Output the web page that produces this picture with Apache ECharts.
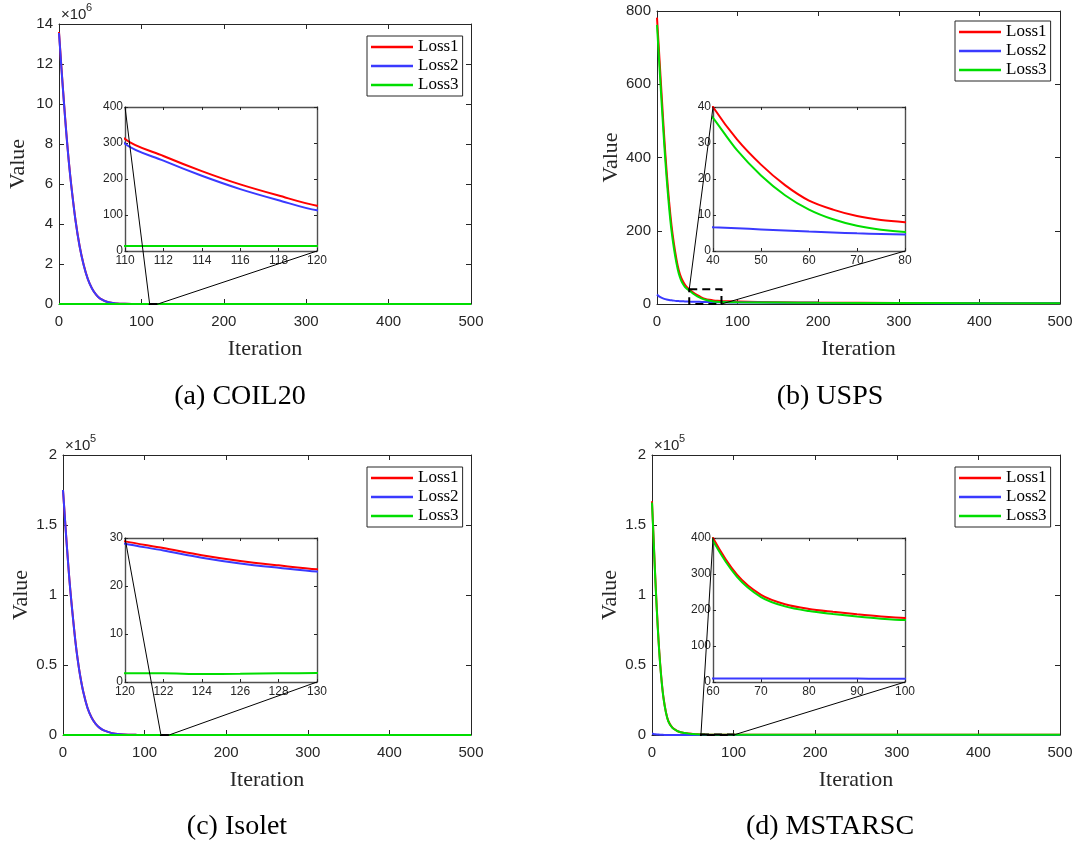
<!DOCTYPE html>
<html><head><meta charset="utf-8">
<script src="https://cdn.jsdelivr.net/npm/echarts@6/dist/echarts.min.js"></script>
<style>html,body{margin:0;padding:0;background:#fff}#c{width:1078px;height:847px}</style>
</head><body><div id="c"></div>
<script>
// ---------------- data ----------------
const seriesNames = ['Loss1', 'Loss2', 'Loss3'];
const captions = ['(a) COIL20', '(b) USPS', '(c) Isolet', '(d) MSTARSC'];
const xTickStep = 100;
const xMax = 500;

// (a) COIL20
const coilIter = [0,3,6,9,12,15,20,25,30,35,40,45,50,60,70,80,90,100,110,112,114,116,118,120,130,150,200,300,400,500];
const coilLoss1 = [13600000,11800000,10100000,8500000,7100000,5900000,4200000,2900000,1950000,1250000,780000,470000,270000,85000,26000,7600,2300,800,311,264,222,185,154,126,52,22,16,15,15,15];
const coilLoss2 = [13550000,11750000,10060000,8465000,7070000,5875000,4180000,2887000,1940000,1244000,776000,467000,268000,84200,25700,7450,2240,775,298,251,209,172,141,113,44,18,13,12,12,12];
const coilLoss3 = [20,18,17,16.5,16,15.5,15.2,15,14.8,14.6,14.5,14.4,14.3,14.2,14.2,14.1,14.1,14,14,14,14,14,14,14,14,13.9,13.8,13.6,13.5,13.4];
const coilYTicks = [0, 14000000, 2000000];      // min, max, step
const coilZoomX = [110, 120], coilZoomY = [0, 400], coilZoomSteps = [2, 100];

// (b) USPS
const uspsIter = [0,3,6,9,12,15,18,21,24,27,30,33,36,40,45,50,55,60,65,70,75,80,90,100,150,200,300,400,500];
const uspsLoss1 = [782,672,562,455,360,280,215,165,124,92,72,59,49,40,31,24,18.3,14,11.5,9.7,8.6,8.0,7.2,6.6,5.0,4.0,3.0,2.5,2.2];
const uspsLoss2 = [26,20,16.5,14,12.3,11,10,9.2,8.5,8,7.5,7.2,6.9,6.6,6.3,6.0,5.7,5.4,5.15,4.9,4.75,4.6,4.4,4.2,3.6,3.1,2.6,2.2,2.0];
const uspsLoss3 = [762,650,540,435,342,264,200,152,113,83,64,52,43.5,37,28,21,15.5,11.5,8.8,7.0,5.9,5.3,4.8,4.5,3.8,3.3,2.7,2.3,2.0];
const uspsYTicks = [0, 800, 200];
const uspsZoomX = [40, 80], uspsZoomY = [0, 40], uspsZoomSteps = [10, 10];

// (c) Isolet
const isoletIter = [0,2,4,6,8,10,12,15,18,21,25,30,35,40,45,50,60,70,80,90,100,110,120,122,124,126,128,130,150,200,300,400,500];
const isoletLoss1 = [175000,158000,141000,125000,110000,97000,85000,68000,54000,42500,30500,19500,12500,8000,5100,3300,1350,560,240,110,57,37,29.3,27.9,26.4,25.2,24.3,23.5,19,15,12,11,10];
const isoletLoss2 = [175000,157800,140800,124800,109800,96800,84800,67800,53800,42300,30350,19400,12430,7950,5070,3280,1340,555,237,108,56,36.5,28.8,27.4,25.9,24.7,23.8,23.0,18.5,14.6,11.7,10.7,9.8];
const isoletLoss3 = [2.0,1.95,1.9,1.9,1.85,1.85,1.8,1.8,1.8,1.8,1.8,1.8,1.8,1.8,1.8,1.8,1.8,1.8,1.8,1.8,1.8,1.8,1.8,1.8,1.65,1.7,1.8,1.85,1.85,1.8,1.8,1.75,1.75];
const isoletYTicks = [0, 200000, 50000];
const isoletZoomX = [120, 130], isoletZoomY = [0, 30], isoletZoomSteps = [2, 10];

// (d) MSTARSC
const mstarIter = [0,2,4,6,8,10,12,14,17,20,25,30,35,40,45,50,55,60,65,70,75,80,85,90,95,100,150,200,300,400,500];
const mstarLoss1 = [167000,140000,113000,89000,68000,51000,37500,27000,16500,10000,5200,3200,2000,1400,1000,760,540,400,298,242,216,203,195,188,182,178,162,150,140,135,130];
const mstarLoss2 = [1000,750,550,400,290,210,150,110,70,45,25,17,13,11.5,10.5,10,9.8,9.7,9.6,9.6,9.5,9.5,9.4,9.4,9.3,9.3,9.1,9.0,8.8,8.7,8.6];
const mstarLoss3 = [166000,139000,112000,88000,67200,50300,37000,26600,16200,9800,5050,3120,1950,1370,980,745,530,392,292,236,210,197,189,182,176,172,156,146,137,132,127];
const mstarYTicks = [0, 200000, 50000];
const mstarZoomX = [60, 100], mstarZoomY = [0, 400], mstarZoomSteps = [10, 100];

// ---------------- style / layout ----------------
const colors = ['#ff0000', '#3a3aff', '#00dd00'];
const AX = '#262626';
const SANS = 'Liberation Sans, Arial, Helvetica, sans-serif';
const SERIF = 'Liberation Serif, Times New Roman, serif';

const panels = [
  {iter: coilIter, losses: [coilLoss1, coilLoss2, coilLoss3], yT: coilYTicks, yScale: 1e6, exp: '6',
   zx: coilZoomX, zy: coilZoomY, zs: coilZoomSteps,
   main: {left: 59, top: 24, width: 412, height: 280}, inset: {left: 125, top: 107, width: 192, height: 144},
   legend: {left: 367, top: 36}, cap: [240, 397]},
  {iter: uspsIter, losses: [uspsLoss1, uspsLoss2, uspsLoss3], yT: uspsYTicks, yScale: 1, exp: null,
   zx: uspsZoomX, zy: uspsZoomY, zs: uspsZoomSteps,
   main: {left: 657, top: 11, width: 403, height: 293}, inset: {left: 713, top: 107, width: 192, height: 144},
   legend: {left: 955, top: 21}, cap: [830, 397]},
  {iter: isoletIter, losses: [isoletLoss1, isoletLoss2, isoletLoss3], yT: isoletYTicks, yScale: 1e5, exp: '5',
   zx: isoletZoomX, zy: isoletZoomY, zs: isoletZoomSteps,
   main: {left: 63, top: 455, width: 408, height: 280}, inset: {left: 125, top: 538, width: 192, height: 144},
   legend: {left: 367, top: 467}, cap: [237, 827]},
  {iter: mstarIter, losses: [mstarLoss1, mstarLoss2, mstarLoss3], yT: mstarYTicks, yScale: 1e5, exp: '5',
   zx: mstarZoomX, zy: mstarZoomY, zs: mstarZoomSteps,
   main: {left: 652, top: 455, width: 408, height: 280}, inset: {left: 713, top: 538, width: 192, height: 144},
   legend: {left: 955, top: 467}, cap: [830, 827]}
];

const grids = [], xAxes = [], yAxes = [], series = [], legends = [];

function mkAxis(g, min, max, step, inset, pos, fmt, name, isY) {
  return {
    gridIndex: g, type: 'value', min: min, max: max, interval: step, position: pos,
    z: inset ? 6 : 1,
    axisLine: {show: true, onZero: false, lineStyle: {color: inset ? '#505050' : AX, width: inset ? 1.4 : 1}},
    axisTick: {show: true, inside: true, length: inset ? 3 : 5, lineStyle: {color: AX}},
    axisLabel: {show: (pos === 'bottom' || pos === 'left'), fontFamily: SANS, fontSize: inset ? 12 : 15,
      color: AX, margin: inset ? (isY ? 2 : 4) : (isY ? 6 : 10), showMinLabel: true, showMaxLabel: true,
      formatter: fmt},
    splitLine: {show: false},
    name: name || '', nameLocation: 'middle', nameGap: isY ? 30 : 34,
    nameTextStyle: {fontFamily: SERIF, fontSize: 22, color: AX}
  };
}

// main grids 0..3, inset grids 4..7
panels.forEach((p) => {
  grids.push(Object.assign({containLabel: false, show: false}, p.main));
});
panels.forEach((p) => {
  grids.push(Object.assign({containLabel: false, show: true, backgroundColor: '#fff', borderWidth: 0, z: 5}, p.inset));
});

panels.forEach((p, i) => {
  const fmt = v => String(+(v / p.yScale).toFixed(2));
  xAxes.push(mkAxis(i, 0, xMax, xTickStep, false, 'bottom', null, 'Iteration', false));
  xAxes.push(mkAxis(i, 0, xMax, xTickStep, false, 'top', null, '', false));
  yAxes.push(mkAxis(i, p.yT[0], p.yT[1], p.yT[2], false, 'left', fmt, 'Value', true));
  yAxes.push(mkAxis(i, p.yT[0], p.yT[1], p.yT[2], false, 'right', fmt, '', true));
});
panels.forEach((p, i) => {
  const g = i + 4;
  xAxes.push(mkAxis(g, p.zx[0], p.zx[1], p.zs[0], true, 'bottom', null, '', false));
  xAxes.push(mkAxis(g, p.zx[0], p.zx[1], p.zs[0], true, 'top', null, '', false));
  yAxes.push(mkAxis(g, p.zy[0], p.zy[1], p.zs[1], true, 'left', null, '', true));
  yAxes.push(mkAxis(g, p.zy[0], p.zy[1], p.zs[1], true, 'right', null, '', true));
});

panels.forEach((p, i) => {
  p.seriesIdx = {};
  p.losses.forEach((vals, s) => {
    const data = p.iter.map((x, k) => [x, vals[k]]);
    const base = {type: 'line', name: seriesNames[s], data: data, showSymbol: false, symbol: 'none',
      smooth: 0.3, lineStyle: {width: 2, color: colors[s]}, itemStyle: {color: colors[s]},
      animation: false, clip: true, emphasis: {disabled: true}};
    const mainS = Object.assign({}, base, {xAxisIndex: 2 * i, yAxisIndex: 2 * i, z: 2});
    if (s === 2) {
      mainS.markArea = {silent: true, z: 3,
        itemStyle: {color: 'rgba(0,0,0,0)', borderColor: '#000', borderWidth: 2, borderType: [8, 5]},
        data: [[{coord: [p.zx[0], p.zy[1]]}, {coord: [p.zx[1], p.zy[0]]}]]};
    }
    if (s === 0) p.seriesIdx.main = series.length;
    series.push(mainS);
    if (s === 0) p.seriesIdx.inset = series.length;
    series.push(Object.assign({}, base, {xAxisIndex: 2 * (i + 4), yAxisIndex: 2 * (i + 4), z: 7}));
  });
  legends.push({show: true, data: seriesNames, left: p.legend.left, top: p.legend.top, orient: 'vertical',
    icon: 'rect', itemWidth: 42, itemHeight: 2.5, itemGap: 1, padding: [2, 4, 2, 4],
    borderColor: AX, borderWidth: 1, backgroundColor: '#fff', selectedMode: false,
    textStyle: {fontFamily: SERIF, fontSize: 17, color: '#000', lineHeight: 18}});
});

const chart = echarts.init(document.getElementById('c'), null, {renderer: 'canvas'});
chart.setOption({
  backgroundColor: '#fff', animation: false,
  grid: grids, xAxis: xAxes, yAxis: yAxes, series: series, legend: legends
});

// ---------- annotations: captions, exponent labels, zoom connectors ----------
const graphics = [];
panels.forEach((p, i) => {
  graphics.push({type: 'text', x: p.cap[0], y: p.cap[1], z: 50,
    style: {text: captions[i], font: '28px ' + SERIF, fill: '#000', textAlign: 'center', textVerticalAlign: 'middle', align: 'center', verticalAlign: 'middle'}});
  if (p.exp) {
    graphics.push({type: 'text', x: p.main.left + 2, y: p.main.top - 17, z: 50,
      style: {text: '×10', font: '15px ' + SANS, fill: AX, textVerticalAlign: 'top', verticalAlign: 'top'}});
    graphics.push({type: 'text', x: p.main.left + 27, y: p.main.top - 22, z: 50,
      style: {text: p.exp, font: '11px ' + SANS, fill: AX, textVerticalAlign: 'top', verticalAlign: 'top'}});
  }
  const insTL = chart.convertToPixel({seriesIndex: p.seriesIdx.inset}, [p.zx[0], p.zy[1]]);
  const insBR = chart.convertToPixel({seriesIndex: p.seriesIdx.inset}, [p.zx[1], p.zy[0]]);
  const mTL = chart.convertToPixel({seriesIndex: p.seriesIdx.main}, [p.zx[0], p.zy[1]]);
  const mBR = chart.convertToPixel({seriesIndex: p.seriesIdx.main}, [p.zx[1], p.zy[0]]);
  [[insTL, mTL], [insBR, mBR]].forEach(pr => {
    graphics.push({type: 'line', z: 100, silent: true,
      shape: {x1: pr[0][0], y1: pr[0][1], x2: pr[1][0], y2: pr[1][1]},
      style: {stroke: '#000', lineWidth: 1}});
  });
});
chart.setOption({graphic: graphics});
</script>
</body></html>
